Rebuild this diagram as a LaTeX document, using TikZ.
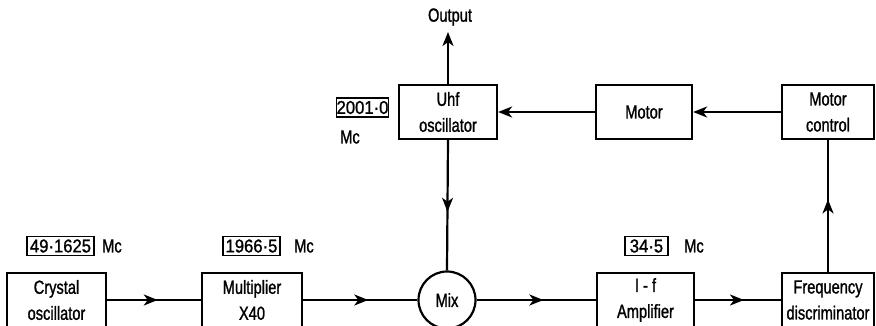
\documentclass[tikz,border=0pt]{standalone}
\usepackage{fontspec}
\setmainfont{Liberation Sans}[FakeStretch=0.77,FakeBold=1.2]
\newfontfamily\numfont{Liberation Sans}[FakeStretch=0.9,FakeBold=1.2]
\usetikzlibrary{arrows.meta,decorations.markings}
\begin{document}
\begin{tikzpicture}[x=1pt,y=-1pt,
  blk/.style={draw,line width=2.2pt,inner sep=0pt,align=center,font=\fontsize{19}{26}\selectfont},
  lbl/.style={draw,line width=1.5pt,inner sep=0pt,minimum height=19pt,font=\numfont\fontsize{18.5}{19}\selectfont},
  txt/.style={inner sep=0pt,font=\fontsize{19}{19}\selectfont},
  conn/.style={line width=2.2pt},
  tip/.style={-{Stealth[length=14pt,width=11pt,inset=4pt]}},
  midarrow/.style={postaction={decorate},decoration={markings,mark=at position #1 with {\arrow{Stealth[length=14pt,width=11pt,inset=4pt]}}}}
]
\useasboundingbox (0,0) rectangle (876,325);
\clip (0,0) rectangle (876,325);

% bottom row
\node[blk,minimum width=99pt,minimum height=54pt] (cry) at (56.5,300) {Crystal\\oscillator};
\node[blk,minimum width=100pt,minimum height=54pt] (mul) at (252,300) {Multiplier\\X40};
\node[draw,circle,line width=2.2pt,minimum size=57pt,inner sep=0pt,font=\fontsize{19}{19}\selectfont] (mix) at (447,300) {Mix};
\node[blk,minimum width=97pt,minimum height=54pt] (if) at (645.5,300) {I - f\\Amplifier};
\node[blk,minimum width=92pt,minimum height=54pt] (fd) at (828,300) {Frequency\\discriminator};

% top row
\node[blk,minimum width=98pt,minimum height=54pt] (uhf) at (448,112) {Uhf\\oscillator};
\node[blk,minimum width=96pt,minimum height=54pt] (mot) at (644,112) {Motor};
\node[blk,minimum width=92pt,minimum height=54pt] (mc) at (828,112) {Motor\\control};

% output
\node[txt] (out) at (450,17) {Output};
\coordinate (outtip) at (448,32);

% labels
\node[lbl,minimum width=67pt] (f1) at (60.5,246) {49·1625};
\node[txt] (m1) at (112,246) {Mc};
\node[lbl,minimum width=57pt] (f2) at (251.5,246) {1966·5};
\node[txt] (m2) at (304,246) {Mc};
\node[lbl,minimum width=43pt] (f3) at (646.5,246) {34·5};
\node[txt] (m3) at (694,246) {Mc};
\node[lbl,minimum width=48pt] (f4) at (362.5,107.5) {2001·0};
\node[txt] (m4) at (350,137) {Mc};

% connectors
\draw[conn,midarrow=0.54] (cry.east) -- (mul.west);
\draw[conn,midarrow=0.57] (mul.east) -- (mix.west);
\draw[conn,midarrow=0.56] (mix.east) -- (if.west);
\draw[conn,midarrow=0.57] (if.east) -- (fd.west);
\draw[conn,midarrow=0.55] (fd.north) -- (mc.south);
\draw[conn,tip] (mc.west) -- (mot.east);
\draw[conn,tip] (mot.west) -- (uhf.east);
\draw[conn,midarrow=0.55] (uhf.south) -- (mix.north);
\draw[conn,tip] (uhf.north) -- (outtip);
\end{tikzpicture}
\end{document}
